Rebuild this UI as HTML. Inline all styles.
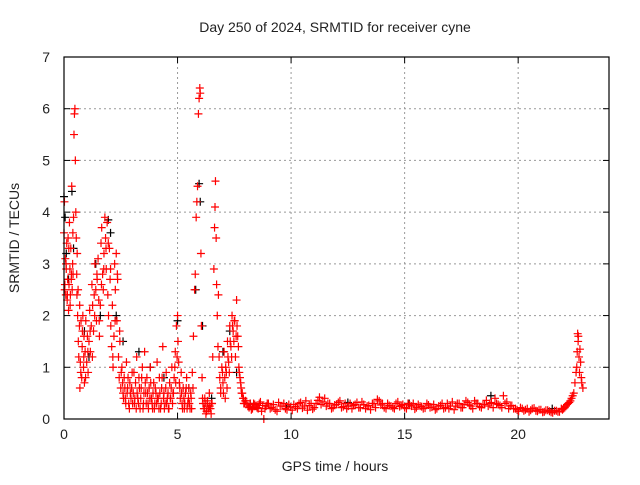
<!DOCTYPE html>
<html><head><meta charset="utf-8"><style>
body{margin:0;background:#fff;width:640px;height:480px;overflow:hidden}
svg text{font-family:"Liberation Sans",sans-serif;font-size:14px;fill:#222}
</style></head><body>
<svg id="chart" width="640" height="480">
<text x="335" y="32" text-anchor="middle">Day 250 of 2024, SRMTID for receiver cyne</text>
<text x="335" y="471" text-anchor="middle">GPS time / hours</text>
<text transform="translate(19,238) rotate(-90)" text-anchor="middle">SRMTID / TECUs</text>
<g id="grid"></g>
<g id="ticks"></g>
<g id="series-black"></g>
<g id="series-red"></g>
<rect x="64" y="57" width="545" height="362" fill="none" stroke="#000" stroke-width="1.2"/>
</svg>
<script>
const xTicks=[0,5,10,15,20];
const yTicks=[0,1,2,3,4,5,6,7];
const redHours=[0.00,0.02,0.04,0.06,0.08,0.10,0.12,0.14,0.16,0.18,0.20,0.22,0.24,0.26,0.28,0.30,0.32,0.34,0.36,0.38,0.40,0.42,0.44,0.46,0.48,0.50,0.52,0.54,0.56,0.58,0.60,0.62,0.65,0.68,0.70,0.72,0.75,0.78,0.80,0.83,0.86,0.88,0.90,0.93,0.96,1.00,1.03,1.06,1.10,1.13,1.16,1.20,1.23,1.26,1.30,1.33,1.36,1.40,1.43,1.46,1.50,1.53,1.56,1.60,1.63,1.66,1.70,1.73,1.76,1.80,1.83,1.86,1.90,1.93,1.96,2.00,2.03,2.06,2.10,2.13,2.16,2.20,2.23,2.26,2.30,2.33,2.36,2.40,2.43,2.46,2.50,2.55,2.60,2.65,2.70,2.75,2.80,2.85,2.90,2.95,3.00,3.05,3.10,3.15,3.20,3.25,3.30,3.35,3.40,3.45,3.50,3.55,3.60,3.65,3.70,3.75,3.80,3.85,3.90,3.95,4.00,4.05,4.10,4.15,4.20,4.25,4.30,4.35,4.40,4.45,4.50,4.55,4.60,4.65,4.70,4.75,4.80,4.85,4.90,4.95,5.00,5.02,5.05,5.08,5.12,5.16,5.20,5.25,5.30,5.35,5.40,5.45,5.50,5.55,5.60,5.65,5.70,5.75,5.78,5.82,5.85,5.88,5.92,5.95,5.98,6.00,6.03,6.05,6.08,6.12,6.16,6.20,6.25,6.30,6.35,6.40,6.45,6.50,6.55,6.60,6.63,6.65,6.67,6.70,6.72,6.75,6.78,6.80,6.83,6.86,6.90,6.95,7.00,7.05,7.10,7.15,7.20,7.25,7.30,7.35,7.40,7.45,7.50,7.55,7.60,7.65,7.70,7.75,7.80,7.85,7.90,7.95,8.00,8.10,8.20,8.30,8.40,8.50,8.60,8.70,8.80,8.90,
9.0,9.15,9.3,9.45,9.6,9.75,9.9,10.05,10.2,10.35,10.5,10.65,10.8,10.95,11.1,11.25,11.4,11.55,11.7,11.85,12.0,12.15,12.3,12.45,12.6,12.75,12.9,13.05,13.2,13.35,13.5,13.65,13.8,13.95,14.1,14.25,14.4,14.55,14.7,14.85,15.0,15.15,15.3,15.45,15.6,15.75,15.9,16.05,16.2,16.35,16.5,16.65,16.8,16.95,17.1,17.25,17.4,17.55,17.7,17.85,18.0,18.15,18.3,18.45,18.6,18.75,18.9,19.05,19.2,19.35,19.5,19.65,19.8,19.95,20.1,20.25,20.4,20.55,20.7,20.85,21.0,21.15,21.3,21.45,21.6,21.75,21.9,22.0,22.1,22.2,22.3,22.35,22.45,22.5,22.55,22.6,22.62,22.65,22.68,22.7,22.75,22.8,22.85];
const redTecu=[3.6,4.2,2.6,3.1,2.4,2.9,3.4,2.3,2.7,3.5,2.1,2.6,3.8,2.9,2.4,3.3,2.7,4.5,2.5,3.0,2.8,3.9,5.5,5.9,6.0,5.0,4.0,3.5,2.8,3.2,2.0,2.5,1.2,1.8,0.6,1.1,1.9,0.8,1.4,2.0,1.0,1.6,0.7,1.3,1.9,1.1,1.6,0.9,1.5,2.1,1.3,1.8,2.6,2.2,1.7,2.4,3.0,2.5,1.9,2.7,3.1,2.3,1.6,2.2,3.4,3.7,2.8,2.5,3.2,3.9,3.5,2.9,3.8,2.4,2.0,3.3,2.7,1.8,1.4,2.2,1.0,1.6,3.0,2.5,3.2,1.9,2.7,1.2,0.8,1.5,0.6,1.0,0.5,0.8,0.4,1.1,0.6,0.3,0.7,0.4,0.9,0.5,0.3,0.7,1.2,0.4,0.8,0.2,0.6,1.0,0.3,1.3,0.5,0.8,0.3,0.6,1.0,0.4,0.2,0.7,0.3,0.5,1.1,0.4,0.8,0.2,0.6,1.4,0.5,0.3,0.9,0.4,0.2,0.7,0.4,1.0,0.5,0.8,1.3,1.8,2.0,1.5,1.1,0.7,0.4,0.9,0.3,0.6,0.2,0.5,0.8,0.3,0.6,0.2,0.4,0.9,1.6,2.5,2.8,3.9,4.2,4.5,5.9,6.2,6.4,6.3,3.2,1.8,0.8,0.3,0.2,0.4,0.1,0.3,0.2,0.5,0.2,0.3,1.2,2.9,3.7,4.1,4.6,3.5,2.6,2.0,1.4,2.4,1.2,0.8,0.5,1.0,0.7,1.3,0.4,0.9,1.5,1.1,1.8,1.4,2.0,1.7,1.9,1.2,2.3,1.6,1.0,0.8,0.6,0.5,0.4,0.3,0.35,0.25,0.3,0.2,0.28,0.22,0.3,0.15,0.0,0.25,
0.3,0.22,0.18,0.32,0.25,0.2,0.28,0.17,0.24,0.3,0.21,0.35,0.26,0.19,0.3,0.42,0.33,0.25,0.3,0.22,0.28,0.35,0.24,0.2,0.3,0.26,0.32,0.22,0.28,0.25,0.18,0.3,0.38,0.27,0.22,0.3,0.25,0.2,0.33,0.26,0.22,0.3,0.25,0.19,0.28,0.24,0.21,0.27,0.23,0.18,0.25,0.3,0.22,0.2,0.33,0.25,0.3,0.22,0.35,0.27,0.2,0.3,0.24,0.28,0.36,0.3,0.22,0.3,0.26,0.45,0.33,0.25,0.2,0.18,0.22,0.16,0.2,0.17,0.21,0.15,0.18,0.14,0.17,0.13,0.16,0.14,0.2,0.2,0.25,0.3,0.35,0.4,0.5,0.7,0.9,1.3,1.65,1.6,1.2,0.9,1.1,0.7,0.6];
const redHoursB=[0.03,0.09,0.15,0.21,0.27,0.33,0.39,0.57,0.63,0.69,0.74,0.81,0.87,0.95,1.05,1.15,1.25,1.35,1.45,1.55,1.65,1.75,1.85,1.95,2.05,2.15,2.25,2.35,2.45,2.52,2.58,2.62,2.68,2.72,2.78,2.82,2.88,2.92,2.98,3.02,3.08,3.12,3.18,3.22,3.28,3.32,3.38,3.42,3.48,3.52,3.58,3.62,3.68,3.72,3.78,3.82,3.88,3.92,3.98,4.02,4.08,4.12,4.18,4.22,4.28,4.32,4.38,4.42,4.48,4.52,4.58,4.62,4.68,4.72,4.78,4.82,4.88,4.92,4.98,5.1,5.18,5.22,5.28,5.32,5.38,5.42,5.48,5.52,5.58,5.62,5.68,6.1,6.18,6.22,6.28,6.32,6.38,6.42,6.48,6.52,6.9,6.98,7.02,7.08,7.12,7.18,7.22,7.28,7.32,7.38,7.42,7.48,7.52,7.58,7.62,7.68,7.72,7.78,7.82,7.88,7.92,7.98,8.05,8.15,8.25,8.35,8.45,8.55,8.65,8.75,8.85,8.95,
9.08,9.22,9.38,9.52,9.68,9.82,9.98,10.12,10.28,10.42,10.58,10.72,10.88,11.02,11.18,11.32,11.48,11.62,11.78,11.92,12.08,12.22,12.38,12.52,12.68,12.82,12.98,13.12,13.28,13.42,13.58,13.72,13.88,14.02,14.18,14.32,14.48,14.62,14.78,14.92,15.08,15.22,15.38,15.52,15.68,15.82,15.98,16.12,16.28,16.42,16.58,16.72,16.88,17.02,17.18,17.32,17.48,17.62,17.78,17.92,18.08,18.22,18.38,18.52,18.68,18.82,18.98,19.12,19.28,19.42,19.58,19.72,19.88,20.02,20.18,20.32,20.48,20.62,20.78,20.92,21.08,21.22,21.38,21.52,21.68,21.82,21.95,22.05,22.15,22.25,22.4,22.58,22.64,22.72,22.78];
const redTecuB=[2.5,3.0,2.4,3.3,2.2,2.8,3.6,2.4,1.5,2.2,0.9,1.7,1.2,0.8,1.3,1.7,1.2,2.0,2.8,1.9,2.6,2.9,3.3,3.4,2.9,1.2,1.9,2.8,1.7,0.9,0.7,0.4,0.6,0.3,0.5,0.8,0.2,0.5,0.6,0.3,0.9,0.4,0.2,0.5,0.3,0.6,0.4,0.8,0.2,0.5,0.7,0.3,0.5,0.2,0.4,0.7,0.3,0.5,0.2,0.6,0.3,0.4,0.2,0.5,0.3,0.8,0.4,0.2,0.6,0.3,0.5,0.2,0.4,0.6,0.3,0.5,1.0,0.7,1.2,0.6,0.5,0.2,0.4,0.3,0.6,0.2,0.4,0.3,0.5,0.2,0.6,0.4,0.2,0.3,0.15,0.35,0.2,0.25,0.1,0.3,0.6,0.9,0.5,0.8,1.0,0.6,1.2,0.9,1.5,1.2,1.8,1.5,1.9,1.6,1.8,1.4,0.9,0.7,0.5,0.4,0.3,0.35,0.3,0.22,0.18,0.3,0.25,0.2,0.33,0.26,0.2,0.3,
0.2,0.28,0.15,0.25,0.3,0.18,0.23,0.28,0.2,0.32,0.25,0.17,0.3,0.22,0.36,0.28,0.4,0.3,0.2,0.27,0.32,0.22,0.3,0.25,0.2,0.28,0.22,0.33,0.2,0.26,0.3,0.22,0.35,0.3,0.2,0.26,0.22,0.3,0.24,0.28,0.2,0.27,0.3,0.22,0.25,0.2,0.3,0.22,0.28,0.2,0.26,0.2,0.3,0.25,0.18,0.3,0.22,0.28,0.32,0.25,0.35,0.3,0.22,0.28,0.25,0.32,0.4,0.28,0.22,0.3,0.2,0.26,0.2,0.15,0.2,0.18,0.14,0.2,0.16,0.18,0.13,0.17,0.15,0.12,0.16,0.14,0.18,0.22,0.28,0.32,0.45,1.0,1.5,1.35,0.8];
const blackHours=[0.0,0.05,0.1,0.2,0.35,0.42,0.9,1.1,1.4,1.6,1.95,2.05,2.3,2.6,3.3,3.8,4.4,5.0,5.5,5.8,5.95,6.0,6.1,6.5,7.0,7.3,7.6,8.2,9.8,12.5,15.2,18.8,21.5];
const blackTecu=[4.3,3.9,3.2,2.7,4.4,3.3,1.7,1.2,3.0,2.0,3.85,3.6,2.0,1.5,1.3,1.0,0.8,1.9,0.6,2.5,4.55,4.2,1.8,0.4,1.3,1.7,0.9,0.3,0.25,0.32,0.3,0.45,0.2];

const L=64,R=609,T=57,B=419,X0=0,X1=24,Y0=0,Y1=7;
const sx=v=>L+(v-X0)/(X1-X0)*(R-L);
const sy=v=>B-(v-Y0)/(Y1-Y0)*(B-T);
const NS='http://www.w3.org/2000/svg';
const grid=document.getElementById('grid'),ticks=document.getElementById('ticks'),svg=document.getElementById('chart');
function mk(tag,p,attrs){const e=document.createElementNS(NS,tag);for(const k in attrs)e.setAttribute(k,attrs[k]);p.appendChild(e);return e;}
xTicks.forEach(v=>{const x=sx(v);
 if(v>0){const g=mk('line',grid,{x1:x,x2:x,y1:T,y2:B,stroke:'#999','stroke-dasharray':'2,3'});
 
 }
 mk('line',ticks,{x1:x,x2:x,y1:B,y2:B-6,stroke:'#000'});mk('line',ticks,{x1:x,x2:x,y1:T,y2:T+6,stroke:'#000'});
 const t=mk('text',svg,{x:x,y:B+20,'text-anchor':'middle'});t.textContent=v;
 
 });
yTicks.forEach(v=>{const y=sy(v);
 if(v>0&&v<7){const g=mk('line',grid,{x1:L,x2:R,y1:y,y2:y,stroke:'#999','stroke-dasharray':'2,3'});
 
 }
 mk('line',ticks,{x1:L,x2:L+6,y1:y,y2:y,stroke:'#000'});mk('line',ticks,{x1:R,x2:R-6,y1:y,y2:y,stroke:'#000'});
 const t=mk('text',svg,{x:L-14,y:y+5,'text-anchor':'end'});t.textContent=v;
 
 });
function plus(g,hs,vs,col){let d='';for(let i=0;i<hs.length;i++){const x=sx(hs[i]),y=sy(vs[i]);d+=`M${x-4},${y}h8M${x},${y-4}v8`;}
 const p=mk('path',g,{d:d,stroke:col,'stroke-width':1.2,fill:'none'});
 
 }
plus(document.getElementById('series-black'),blackHours,blackTecu,'#000');
plus(document.getElementById('series-red'),redHours,redTecu,'#f00');
plus(document.getElementById('series-red'),redHoursB,redTecuB,'#f00');
</script>
</body></html>
